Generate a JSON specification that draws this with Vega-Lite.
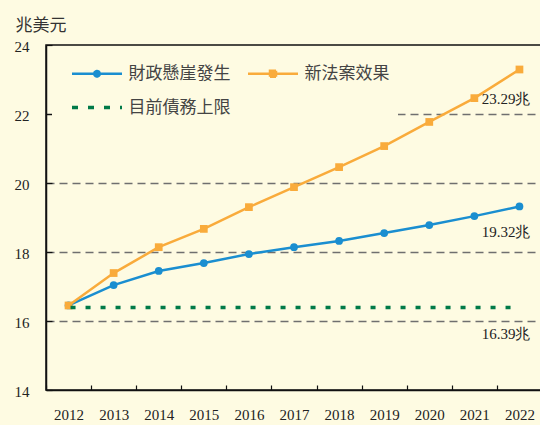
{
  "$schema": "https://vega.github.io/schema/vega-lite/v6.json",
  "width": 496,
  "height": 345,
  "autosize": {"type": "none"},
  "padding": {"left": 46, "top": 45, "right": 0, "bottom": 35},
  "background": "#fefbe2",
  "config": {
    "view": {"stroke": "#111", "strokeWidth": 1.5},
    "font": "Liberation Serif"
  },
  "datasets": {
    "main": [
      {"year": 2012, "value": 16.45, "series": "財政懸崖發生"},
      {"year": 2013, "value": 17.04, "series": "財政懸崖發生"},
      {"year": 2014, "value": 17.45, "series": "財政懸崖發生"},
      {"year": 2015, "value": 17.68, "series": "財政懸崖發生"},
      {"year": 2016, "value": 17.94, "series": "財政懸崖發生"},
      {"year": 2017, "value": 18.14, "series": "財政懸崖發生"},
      {"year": 2018, "value": 18.32, "series": "財政懸崖發生"},
      {"year": 2019, "value": 18.55, "series": "財政懸崖發生"},
      {"year": 2020, "value": 18.78, "series": "財政懸崖發生"},
      {"year": 2021, "value": 19.04, "series": "財政懸崖發生"},
      {"year": 2022, "value": 19.32, "series": "財政懸崖發生"},
      {"year": 2012, "value": 16.45, "series": "新法案效果"},
      {"year": 2013, "value": 17.39, "series": "新法案效果"},
      {"year": 2014, "value": 18.14, "series": "新法案效果"},
      {"year": 2015, "value": 18.67, "series": "新法案效果"},
      {"year": 2016, "value": 19.3, "series": "新法案效果"},
      {"year": 2017, "value": 19.88, "series": "新法案效果"},
      {"year": 2018, "value": 20.46, "series": "新法案效果"},
      {"year": 2019, "value": 21.07, "series": "新法案效果"},
      {"year": 2020, "value": 21.77, "series": "新法案效果"},
      {"year": 2021, "value": 22.46, "series": "新法案效果"},
      {"year": 2022, "value": 23.29, "series": "新法案效果"}
    ],
    "limit": [
      {"year": 2012, "value": 16.39, "series": "目前債務上限"},
      {"year": 2022, "value": 16.39, "series": "目前債務上限"}
    ],
    "labels": [
      {"year": 2022, "value": 23.29, "label": "23.29兆", "group": "top"},
      {"year": 2022, "value": 19.32, "label": "19.32兆", "group": "low"},
      {"year": 2022, "value": 16.39, "label": "16.39兆", "group": "low"}
    ]
  },
  "encoding": {
    "x": {
      "field": "year",
      "type": "ordinal",
      "scale": {"type": "band", "paddingInner": 0, "paddingOuter": 0},
      "axis": {
        "title": null,
        "labelAngle": 0,
        "tickBand": "extent",
        "tickSize": -5,
        "tickColor": "#111",
        "tickWidth": 1.2,
        "domainColor": "#111",
        "domainWidth": 1.5,
        "labelPadding": 22,
        "labelFontSize": 15,
        "labelColor": "#222",
        "labelFont": "Liberation Serif",
        "grid": false
      }
    },
    "y": {
      "field": "value",
      "type": "quantitative",
      "scale": {"domain": [14, 24], "nice": false, "zero": false},
      "axis": {
        "title": "兆美元",
        "titleAngle": 0,
        "titleAlign": "left",
        "titleBaseline": "middle",
        "titleX": -31,
        "titleY": -20,
        "titleFont": "Noto Sans CJK TC",
        "titleFontSize": 17,
        "titleFontWeight": "normal",
        "titleColor": "#333",
        "values": [14, 16, 18, 20, 22, 24],
        "grid": true,
        "gridColor": {"condition": {"test": "datum.value === 14 || datum.value === 24", "value": "transparent"}, "value": "#6f6f6f"},
        "gridDash": [8, 5],
        "gridWidth": 1.3,
        "tickSize": -6,
        "tickColor": "#111",
        "tickWidth": 1.2,
        "domainColor": "#111",
        "domainWidth": 1.5,
        "labelPadding": 23,
        "labelOffset": 1,
        "labelFontSize": 15,
        "labelColor": "#222",
        "labelFont": "Liberation Serif"
      }
    }
  },
  "layer": [
    {
      "data": {"name": "main"},
      "mark": {"type": "line", "strokeWidth": 2.5},
      "encoding": {
        "color": {
          "field": "series",
          "type": "nominal",
          "scale": {"domain": ["財政懸崖發生", "新法案效果", "目前債務上限"], "range": ["#1a8ed0", "#f9ab3b", "#007a48"]},
          "legend": {
            "title": null,
            "orient": "none",
            "direction": "horizontal",
            "legendX": 6,
            "legendY": 12,
            "columns": 2,
            "columnPadding": 5,
            "rowPadding": 16,
            "padding": 8,
            "fillColor": "#fefbe2",
            "strokeColor": null,
            "symbolSize": 2500,
            "symbolType": "M-1,0H1",
            "symbolOffset": 28.5,
            "labelFont": "Noto Sans CJK TC",
            "labelFontSize": 17,
            "labelColor": "#444444",
            "labelOffset": 23,
            "labelLimit": 0,
            "encode": {
              "symbols": {
                "update": {
                  "shape": {"signal": "datum.value === '財政懸崖發生' ? 'M-1,0H1M-0.11,0A0.11,0.11,0,1,1,0.11,0A0.11,0.11,0,1,1,-0.11,0Z' : datum.value === '新法案效果' ? 'M-1,0H1M-0.12,-0.12H0.12V0.12H-0.12Z' : 'M-1,0H1'"},
                  "fill": {"signal": "datum.value === '財政懸崖發生' ? '#1a8ed0' : datum.value === '新法案效果' ? '#f9ab3b' : 'transparent'"},
                  "stroke": {"signal": "datum.value === '財政懸崖發生' ? '#1a8ed0' : datum.value === '新法案效果' ? '#f9ab3b' : '#007a48'"},
                  "strokeWidth": {"signal": "datum.value === '目前債務上限' ? 3.5 : 2.5"},
                  "strokeDash": {"signal": "datum.value === '目前債務上限' ? [6, 10] : [1, 0]"},
                  "opacity": {"value": 1}
                }
              }
            }
          }
        }
      }
    },
    {
      "data": {"name": "main"},
      "mark": {"type": "point", "filled": true, "opacity": 1, "size": 60},
      "encoding": {
        "color": {"field": "series", "type": "nominal"},
        "shape": {
          "field": "series",
          "type": "nominal",
          "scale": {"domain": ["財政懸崖發生", "新法案效果"], "range": ["circle", "square"]},
          "legend": null
        }
      }
    },
    {
      "data": {"name": "limit"},
      "mark": {"type": "line", "strokeWidth": 3.5, "strokeDash": [5, 10], "strokeDashOffset": -2},
      "encoding": {
        "color": {"field": "series", "type": "nominal"}
      }
    },
    {
      "data": {"name": "labels"},
      "transform": [{"filter": "datum.group === 'top'"}],
      "mark": {"type": "text", "align": "right", "baseline": "middle", "dx": 11, "dy": 30, "font": "Liberation Serif", "fontSize": 15, "color": "#222"},
      "encoding": {"text": {"field": "label"}}
    },
    {
      "data": {"name": "labels"},
      "transform": [{"filter": "datum.group === 'low'"}],
      "mark": {"type": "text", "align": "right", "baseline": "middle", "dx": 11, "dy": 26, "font": "Liberation Serif", "fontSize": 15, "color": "#222"},
      "encoding": {"text": {"field": "label"}}
    }
  ]
}
